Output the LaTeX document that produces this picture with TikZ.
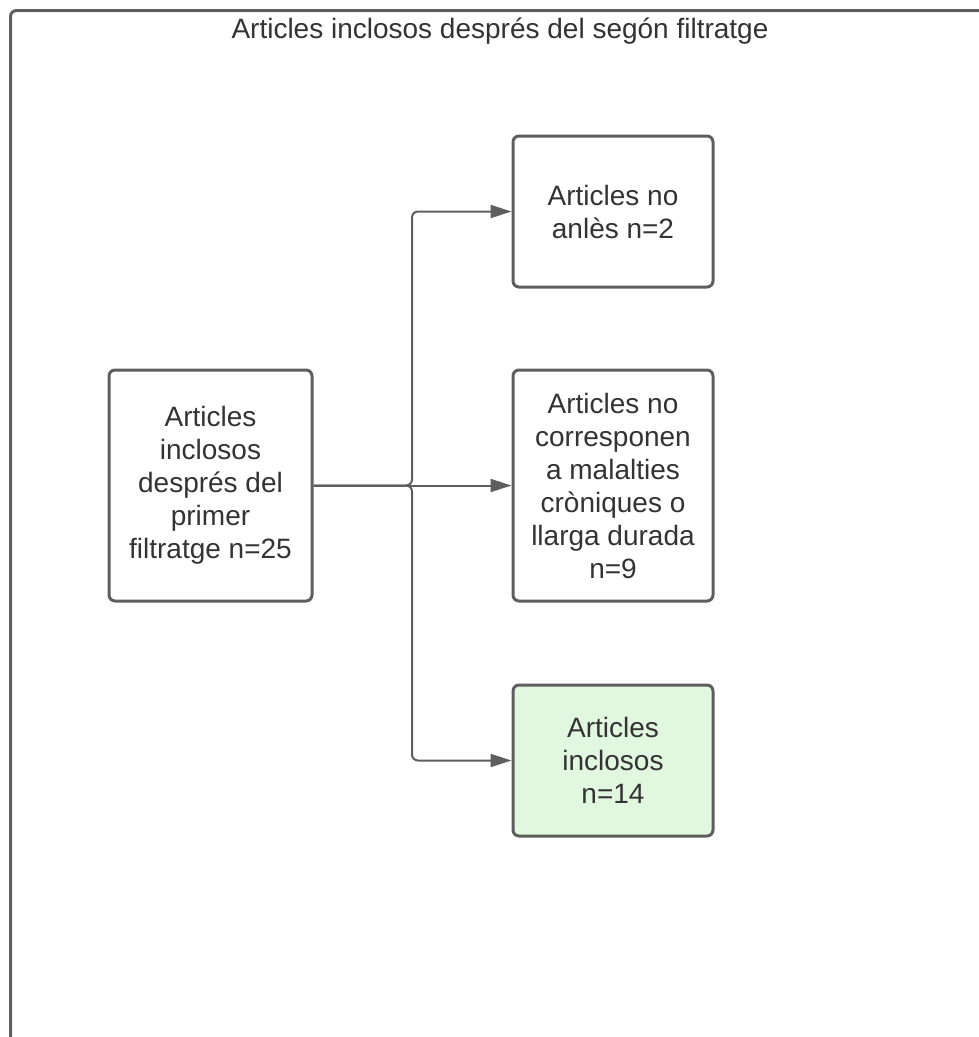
\documentclass[tikz,border=0pt]{standalone}
\usepackage{fontspec}
\setmainfont{Liberation Sans}
\usetikzlibrary{arrows.meta}
\definecolor{edge}{HTML}{5E5E5E}
\definecolor{txt}{HTML}{333333}
\definecolor{okgreen}{HTML}{E2F7DF}
\tikzset{
  box/.style={draw=edge, line width=3pt, rounded corners=6pt, fill=white,
    align=center, text=txt, inner sep=0pt,
    font=\fontsize{28}{33}\selectfont},
  conn/.style={draw=edge, line width=2pt, rounded corners=6pt,
    -{Triangle[length=21pt,width=13pt]}},
}
\begin{document}
\begin{tikzpicture}[x=1pt,y=-1pt]
\useasboundingbox (0,0) rectangle (979,1037);
\clip (0,0) rectangle (979,1037);
% outer frame (only left and top edges visible)
\draw[edge, line width=3pt, rounded corners=6pt] (10.5,1060) -- (10.5,10.5) -- (1000,10.5);
\node[text=txt, font=\fontsize{28}{33}\selectfont, anchor=base] (title) at (500,38) {Articles inclosos després del segón filtratge};
% boxes
\node[box, minimum width=203pt, minimum height=231pt] (lb) at (210.5,485.5)
  {Articles\\inclosos\\després del\\primer\\filtratge n=25};
\node[box, minimum width=200pt, minimum height=151pt] (top) at (613,211.5)
  {Articles no\\anlès n=2};
\node[box, minimum width=200pt, minimum height=231pt] (mid) at (613,485.5)
  {Articles no\\corresponen\\a malalties\\cròniques o\\llarga durada\\n=9};
\node[box, fill=okgreen, minimum width=200pt, minimum height=151pt] (inc) at (613,760.5)
  {Articles\\inclosos\\n=14};
% connectors
\coordinate (j) at (412,485.5);
\draw[conn] (lb.east) -- (j) |- (top.west);
\draw[conn] (lb.east) -- (mid.west);
\draw[conn] (lb.east) -- (j) |- (inc.west);
\end{tikzpicture}
\end{document}
